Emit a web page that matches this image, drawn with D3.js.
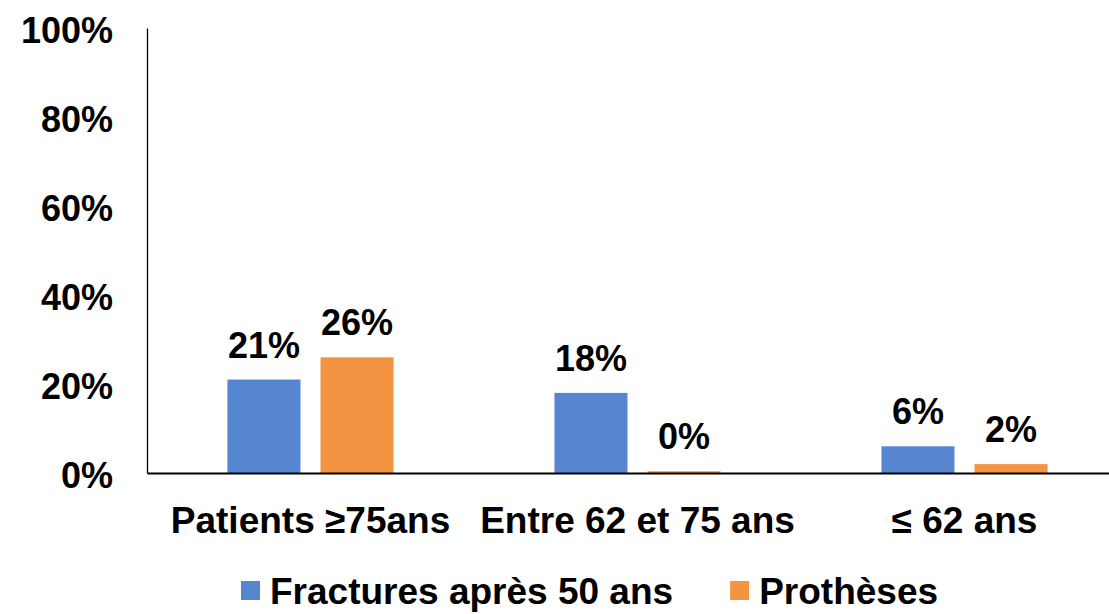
<!DOCTYPE html>
<html>
<head>
<meta charset="utf-8">
<script src="https://cdn.jsdelivr.net/npm/d3@7"></script>
<style>
  body { margin: 0; background: #fff; }
  svg text { font-family: "Liberation Sans", Arial, sans-serif; font-weight: bold; fill: #000; }
</style>
</head>
<body>
<div id="chart"></div>
<script>
// categories and series
const categories = ['Patients \u226575ans', 'Entre 62 et 75 ans', '\u2264 62 ans'];
const seriesNames = ['Fractures apr\u00e8s 50 ans', 'Proth\u00e8ses'];
const fractures = [0.21, 0.18, 0.06];
const protheses = [0.26, 0.004, 0.02];
const yTicks = [0, 0.2, 0.4, 0.6, 0.8, 1];
const colors = ['#5586cf', '#f29441'];

const width = 1109;
const height = 614;

const data = categories.map(function(c, i) {
  return {cat: c, values: [fractures[i], protheses[i]]};
});

const svg = d3.select('#chart').append('svg')
  .attr('width', width)
  .attr('height', height);

const x0 = d3.scaleBand()
  .domain(categories)
  .range([147, 1128])
  .paddingInner(0.492)
  .paddingOuter(0.246);

const x1 = d3.scaleBand()
  .domain(seriesNames)
  .range([0, x0.bandwidth()])
  .paddingInner(0.215);

const y = d3.scaleLinear()
  .domain([0, 1])
  .range([473, 28]);

// y axis
const yAxis = svg.append('g')
  .attr('transform', 'translate(147,0)')
  .call(d3.axisLeft(y).tickValues(yTicks).tickSize(0).tickPadding(34).tickFormat(d3.format('.0%')));
yAxis.select('.domain').attr('stroke', '#000').attr('stroke-width', 1.3);
yAxis.selectAll('text')
  .style('font-size', '36px')
  .attr('dy', '0.4em');

// bars
const groups = svg.selectAll('.group')
  .data(data)
  .enter()
  .append('g')
  .attr('class', 'group')
  .attr('transform', function(d) { return 'translate(' + x0(d.cat) + ',0)'; });

groups.selectAll('rect')
  .data(function(d) { return d.values.map(function(v, i) { return {key: seriesNames[i], value: v, i: i}; }); })
  .enter()
  .append('rect')
  .attr('x', function(d) { return x1(d.key); })
  .attr('y', function(d) { return y(d.value); })
  .attr('width', x1.bandwidth())
  .attr('height', function(d) { return y(0) - y(d.value); })
  .attr('fill', function(d) { return colors[d.i]; });

groups.selectAll('.lbl')
  .data(function(d) { return d.values.map(function(v, i) { return {key: seriesNames[i], value: v}; }); })
  .enter()
  .append('text')
  .attr('class', 'lbl')
  .attr('x', function(d) { return x1(d.key) + x1.bandwidth() / 2; })
  .attr('y', function(d) { return y(d.value) - 22; })
  .attr('text-anchor', 'middle')
  .style('font-size', '36px')
  .text(function(d) { return Math.round(d.value * 100) + '%'; });

// x axis (baseline + category labels)
const xAxis = svg.append('g')
  .attr('transform', 'translate(0,' + y(0) + ')')
  .call(d3.axisBottom(x0).tickSize(0).tickSizeOuter(0).tickPadding(34));
xAxis.select('.domain').attr('stroke', '#000').attr('stroke-width', 1.8);
xAxis.selectAll('text').style('font-size', '37px');

// legend
const legend = svg.append('g').attr('class', 'legend');
let lx = 241;
seriesNames.forEach(function(name, i) {
  legend.append('rect')
    .attr('x', lx)
    .attr('y', 581)
    .attr('width', 19)
    .attr('height', 19)
    .attr('fill', colors[i]);
  const t = legend.append('text')
    .attr('x', lx + 29)
    .attr('y', 604)
    .style('font-size', '37px')
    .text(name);
  lx += 29 + t.node().getComputedTextLength() + 57;
});
</script>
</body>
</html>
